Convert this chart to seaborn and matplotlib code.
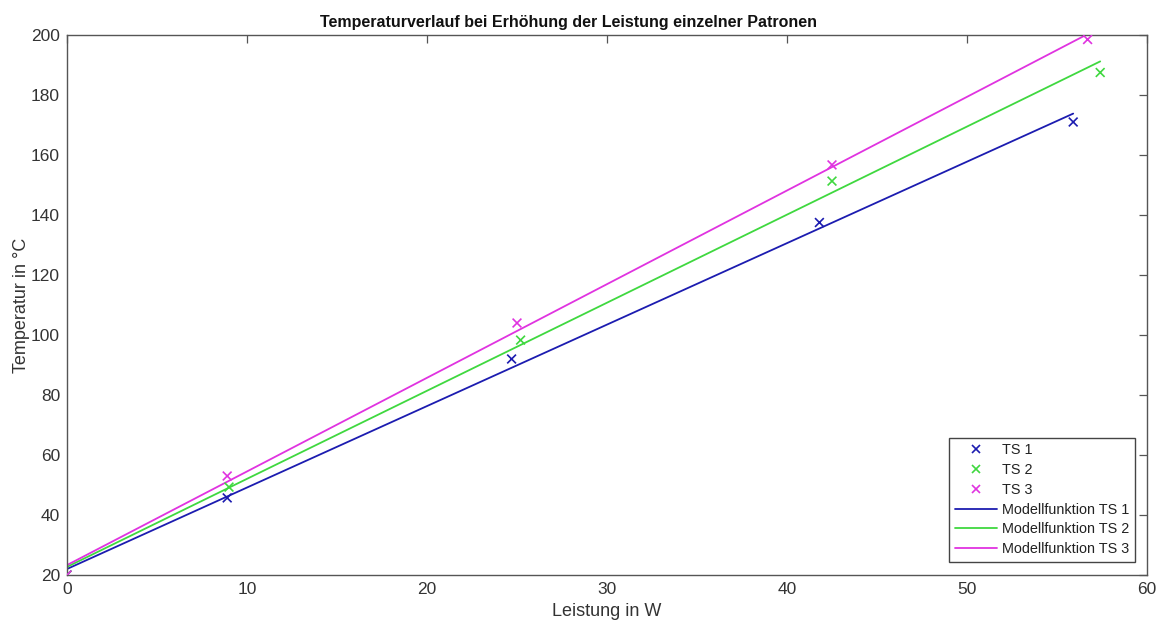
import matplotlib
matplotlib.use("Agg")
import matplotlib.pyplot as plt
import seaborn as sns
import pandas as pd
import numpy as np

# Measured data
ts1_x = [0.0, 8.9, 24.7, 41.8, 55.9]
ts1_y = [20.0, 45.7, 92.0, 137.5, 171.0]
ts2_x = [0.0, 9.0, 25.2, 42.5, 57.4]
ts2_y = [20.0, 49.3, 98.3, 151.3, 187.5]
ts3_x = [0.0, 8.9, 25.0, 42.5, 56.7]
ts3_y = [20.0, 53.0, 104.0, 156.7, 198.5]

# Model functions (line endpoints)
mod1_x = [0.0, 55.9]
mod1_y = [22.0, 173.8]
mod2_x = [0.0, 57.4]
mod2_y = [22.7, 191.2]
mod3_x = [0.0, 56.7]
mod3_y = [23.3, 200.3]

series_names = ["TS 1", "TS 2", "TS 3"]
model_names = ["Modellfunktion TS 1", "Modellfunktion TS 2", "Modellfunktion TS 3"]
colors = ["#1c1cb0", "#3fd83f", "#e033e0"]

title = "Temperaturverlauf bei Erhöhung der Leistung einzelner Patronen"
xlabel = "Leistung in W"
ylabel = "Temperatur in °C"

sns.set_style("white")
plt.rcParams["font.family"] = ["Liberation Sans", "DejaVu Sans"]

fig = plt.figure(figsize=(11.58, 6.28), dpi=100)
ax = fig.add_axes([67 / 1158, 53 / 628, 1080 / 1158, 540 / 628])

pts = pd.DataFrame({
    "x": ts1_x + ts2_x + ts3_x,
    "y": ts1_y + ts2_y + ts3_y,
    "s": [series_names[0]] * len(ts1_x) + [series_names[1]] * len(ts2_x) + [series_names[2]] * len(ts3_x),
})
mods = pd.DataFrame({
    "x": mod1_x + mod2_x + mod3_x,
    "y": mod1_y + mod2_y + mod3_y,
    "s": [model_names[0]] * 2 + [model_names[1]] * 2 + [model_names[2]] * 2,
})

sns.scatterplot(data=pts, x="x", y="y", hue="s", palette=dict(zip(series_names, colors)),
                marker="x", s=40, linewidth=1.2, ax=ax, zorder=3)
sns.lineplot(data=mods, x="x", y="y", hue="s", palette=dict(zip(model_names, colors)),
             linewidth=1.3, ax=ax, estimator=None, sort=False, zorder=2)

ax.set_xlim(0, 60)
ax.set_ylim(20, 200)
ax.set_xticks(np.arange(0, 61, 10))
ax.set_yticks(np.arange(20, 201, 20))
ax.tick_params(direction="in", length=6, width=0.9, colors="#555555",
               labelcolor="#333333", labelsize=12.5, top=True, right=True,
               labeltop=False, labelright=False, pad=5)
for sp in ax.spines.values():
    sp.set_visible(True)
    sp.set_color("#555555")
    sp.set_linewidth(1.0)

ax.set_title(title, fontsize=11.5, fontweight="bold", color="#111111", pad=6,
             x=(568 - 67) / 1080)
ax.set_xlabel(xlabel, fontsize=13, color="#333333", labelpad=4)
ax.set_ylabel(ylabel, fontsize=13, color="#333333", labelpad=1)

handles, labels = ax.get_legend_handles_labels()
leg = ax.legend(handles, labels, loc="lower right", bbox_to_anchor=(0.989, 0.024),
                fontsize=10.4, frameon=True, fancybox=False, framealpha=1,
                edgecolor="#444444", handlelength=2.9, handletextpad=0.35,
                labelspacing=0.4, borderpad=0.4, borderaxespad=0.0)
leg.get_frame().set_linewidth(1.0)
for t in leg.get_texts():
    t.set_color("#222222")

fig.savefig("out.png", dpi=100, facecolor="white")
